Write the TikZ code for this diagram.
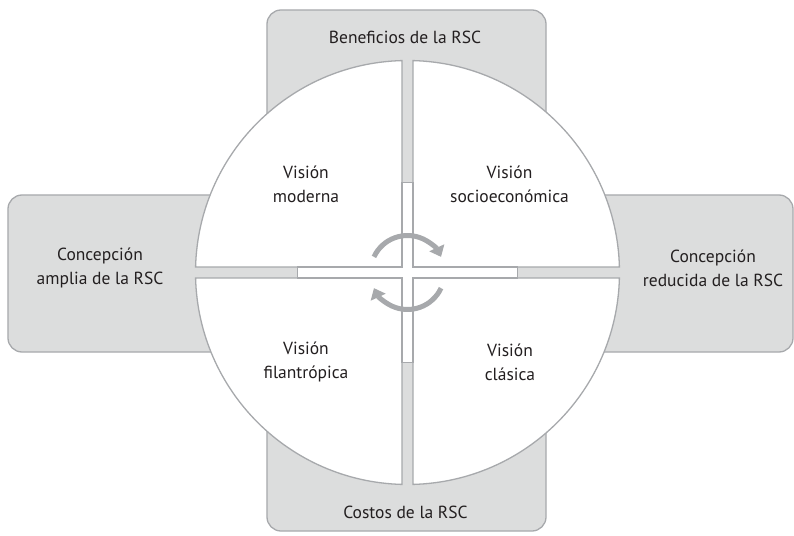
\documentclass[tikz,border=0pt]{standalone}
\usepackage{fontspec}
\setmainfont{PT Sans}
\usetikzlibrary{arrows.meta}
\definecolor{boxgray}{HTML}{DCDDDD}
\definecolor{linegray}{HTML}{A7A9AC}
\definecolor{textdark}{HTML}{231F20}
\tikzset{
  band/.style={fill=boxgray,draw=linegray,line width=1.3pt,rounded corners=14pt},
  quad/.style={fill=white,draw=linegray,line width=1.3pt},
  turn/.style={draw=linegray,line width=5pt,-{Triangle[width=16pt,length=10pt]}},
  lbl/.style={text=textdark,align=center,font=\fontsize{17.5}{24}\selectfont}
}
\begin{document}
\begin{tikzpicture}[x=1pt,y=1pt]
      \useasboundingbox (-407.5,-262.5) rectangle (386.5,272.5);
      \draw[band] (-140.5,-258.5) rectangle (138.5,262.5);
      \draw[band] (-399.5,-79.5) rectangle (385.5,77.5);
      \foreach \a/\sx/\sy in {0/1/1,90/-1/1,180/-1/-1,270/1/-1}
        \draw[quad] (\sx*5.5,\sy*5.5) -- (\a+1.49:212)
          arc[start angle=\a+1.49,end angle=\a+88.51,radius=212] -- cycle;
      \draw[quad] (-5.5,90) -- (5.5,90) -- (5.5,5.5) -- (110,5.5)
        -- (110,-5.5) -- (5.5,-5.5) -- (5.5,-90) -- (-5.5,-90)
        -- (-5.5,-5.5) -- (-110,-5.5) -- (-110,5.5) -- (-5.5,5.5) -- cycle;
      \draw[turn] (155:37) arc[start angle=155,end angle=25,radius=37];
      \draw[turn] (-25:37) arc[start angle=-25,end angle=-155,radius=37];
      \node[lbl] (benef) at (-2.5,235.5) {Beneficios de la RSC};
      \node[lbl] (costos) at (-2,-239.5) {Costos de la RSC};
      \node[lbl] (amplia) at (-307.5,4.5) {Concepción\\amplia de la RSC};
      \node[lbl] (reducida) at (305.5,4.5) {Concepción\\reducida de la RSC};
      \node[lbl] (moderna) at (-101.5,88.5) {Visión\\moderna};
      \node[lbl] (socio) at (102,88.5) {Visión\\socioeconómica};
      \node[lbl] (filan) at (-101.5,-89.5) {Visión\\filantrópica};
      \node[lbl] (clasica) at (102.5,-89.5) {Visión\\clásica};
    \end{tikzpicture}
\end{document}
